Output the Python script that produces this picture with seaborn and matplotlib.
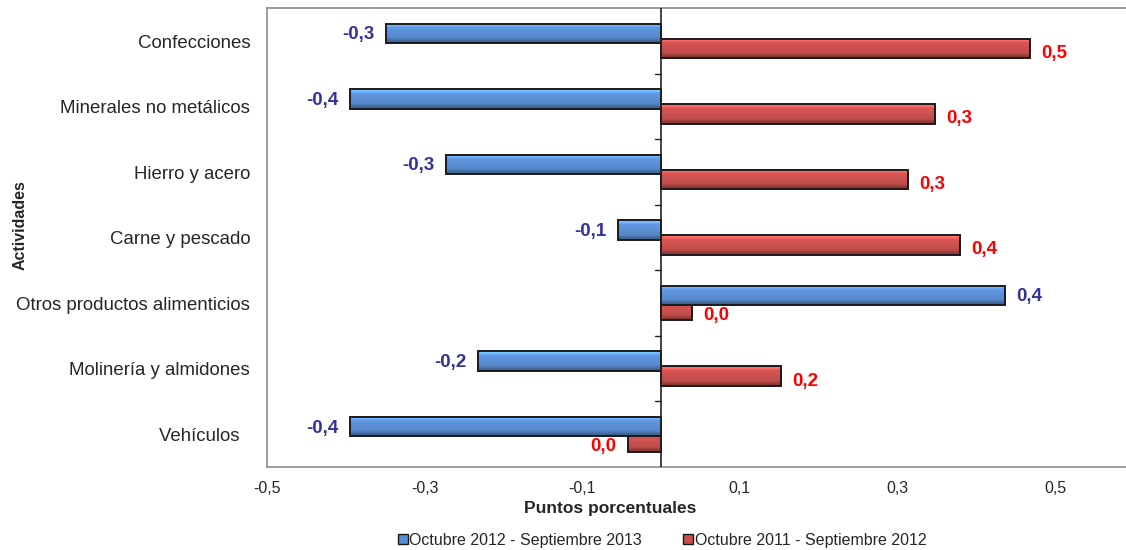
import numpy as np
import pandas as pd
import matplotlib
matplotlib.use("Agg")
import matplotlib.pyplot as plt
import seaborn as sns
from matplotlib.colors import to_rgb
from matplotlib.patches import Patch

actividades = ["Confecciones", "Minerales no metálicos", "Hierro y acero",
               "Carne y pescado", "Otros productos alimenticios",
               "Molinería y almidones", "Vehículos  "]
serie_1 = "Octubre 2012 - Septiembre 2013"
serie_2 = "Octubre 2011 - Septiembre 2012"
valores_1 = [-0.349, -0.395, -0.273, -0.055, 0.437, -0.232, -0.395]
valores_2 = [0.468, 0.348, 0.313, 0.379, 0.039, 0.152, -0.042]
ticks_x = [-0.5, -0.3, -0.1, 0.1, 0.3, 0.5]

col_1 = "#5A8ED3"
col_2 = "#C9504D"
txt_1 = "#333399"
txt_2 = "#FF0000"

df = pd.DataFrame({
    "actividad": actividades * 2,
    "valor": valores_1 + valores_2,
    "serie": [serie_1] * len(actividades) + [serie_2] * len(actividades),
})

sns.set_style("white")
plt.rcParams["font.family"] = ["Liberation Sans", "DejaVu Sans"]

fig = plt.figure(figsize=(11.26, 5.5), dpi=100)
ax = fig.add_axes([0.237, 0.151, 0.77, 0.834])

sns.barplot(data=df, y="actividad", x="valor", hue="serie", orient="h",
            palette=[col_1, col_2], width=0.46, legend=False, ax=ax,
            edgecolor="#1a1a1a", linewidth=1.4, saturation=1)


def bevel(base, n=60):
    c = np.array(to_rgb(base))
    t = np.linspace(0, 1, n)
    prof = np.interp(t, [0, 0.12, 0.2, 0.75, 0.85, 1.0],
                     [1.45, 1.3, 1.08, 0.95, 0.78, 0.62])
    img = np.clip(c[None, :] * prof[:, None], 0, 1)
    return img[:, None, :]


# barras con efecto de relieve; la serie azul queda encima de la roja
bar_h = 0.30
for cont, base, z in zip(ax.containers, [col_1, col_2], [5, 3]):
    grad = bevel(base)
    for p in cont.patches:
        yc = p.get_y() + p.get_height() / 2
        p.set_y(yc - bar_h / 2)
        p.set_height(bar_h)
        x0, y0 = p.get_x(), p.get_y()
        w, h = p.get_width(), p.get_height()
        im = ax.imshow(grad, extent=(x0, x0 + w, y0 + h, y0), origin="upper",
                       aspect="auto", zorder=z - 0.5, interpolation="bilinear")
        im.set_clip_path(p)
        p.set_facecolor("none")
        p.set_zorder(z)

# etiquetas de valores
for cont, vals, tc, dy in zip(ax.containers, [valores_1, valores_2],
                              [txt_1, txt_2], [-1, -3.5]):
    for p, v in zip(cont.patches, vals):
        lab = f"{abs(v) if round(v, 1) == 0 else v:.1f}".replace(".", ",")
        yc = p.get_y() + p.get_height() / 2
        off = 8 if v >= 0 else -8
        ax.annotate(lab, (v, yc), xytext=(off, dy), textcoords="offset points",
                    ha="left" if v >= 0 else "right", va="center", zorder=7,
                    color=tc, fontsize=13.5, fontweight="bold")

ax.axvline(0, color="#222222", lw=1.2, zorder=6)
for b in np.arange(0.5, len(actividades) - 1, 1.0):
    ax.plot([-0.008, 0], [b, b], color="#222222", lw=1.0, zorder=6)

ax.set_xlim(-0.5, 0.6)
ax.set_ylim(len(actividades) - 0.5, -0.5)
ax.set_xticks(ticks_x)
ax.set_xticklabels([f"{t:.1f}".replace(".", ",") for t in ticks_x], fontsize=11.5)
ax.tick_params(axis="both", length=0)
ax.tick_params(axis="x", pad=10)
ax.tick_params(axis="y", labelsize=13.4, pad=12)
ax.set_xlabel("Puntos porcentuales", fontsize=12.5, fontweight="bold")
ax.xaxis.set_label_coords(0.396, -0.075)
ax.set_ylabel("Actividades", fontsize=11.5, fontweight="bold")
ax.yaxis.set_label_coords(-0.276, 0.527)
for s in ax.spines.values():
    s.set_color("#8c8c8c")
    s.set_linewidth(1.2)

handles = [Patch(facecolor=col_1, edgecolor="#1a1a1a", label=serie_1),
           Patch(facecolor=col_2, edgecolor="#1a1a1a", label=serie_2)]
fig.legend(handles=handles, loc="center", bbox_to_anchor=(0.588, 0.018), ncol=2,
           frameon=False, fontsize=11.5, handlelength=0.6, handleheight=0.6,
           handletextpad=0.1, columnspacing=2.6)

fig.savefig("out.png", dpi=100)
